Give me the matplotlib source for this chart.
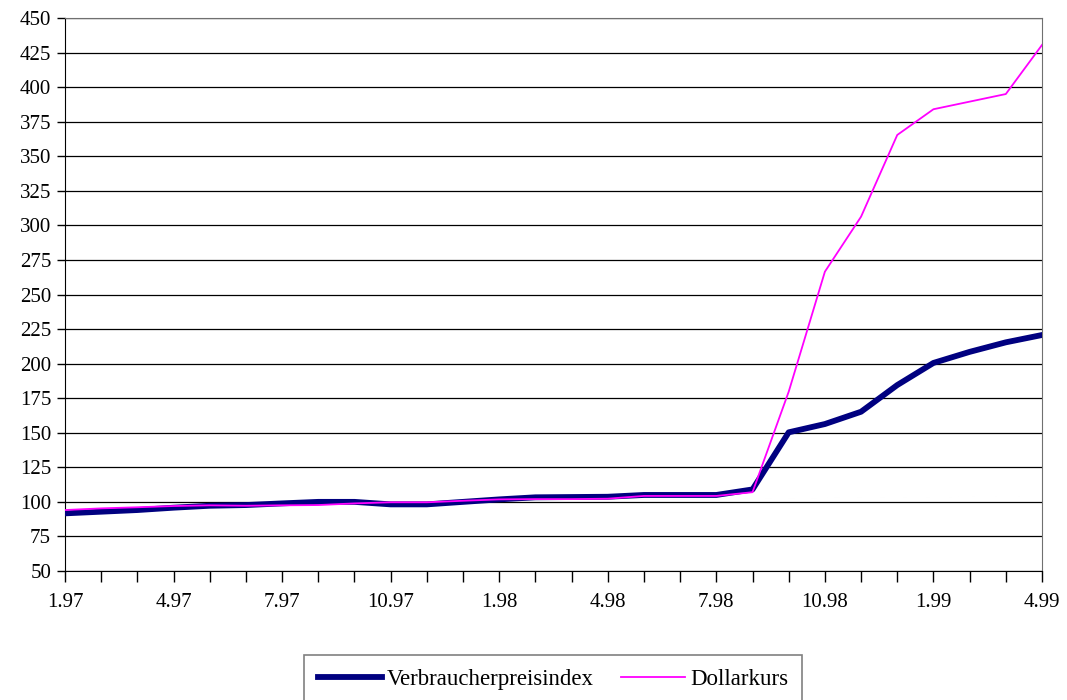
import numpy as np
import matplotlib
matplotlib.use('Agg')
import matplotlib.pyplot as plt

plt.rcParams['font.family'] = ['Liberation Serif', 'DejaVu Serif']

# monthly values, 1.97 .. 4.99
months = ['1.97', '2.97', '3.97', '4.97', '5.97', '6.97', '7.97', '8.97', '9.97', '10.97',
          '11.97', '12.97', '1.98', '2.98', '3.98', '4.98', '5.98', '6.98', '7.98', '8.98',
          '9.98', '10.98', '11.98', '12.98', '1.99', '2.99', '3.99', '4.99']
vpi = [91.7, 92.9, 94.1, 95.8, 97.2, 97.7, 98.9, 100.0, 100.0, 98.2,
       98.2, 100.0, 101.8, 103.3, 103.5, 103.7, 105.0, 105.0, 105.0, 109.0,
       150.3, 156.3, 165.2, 184.5, 200.5, 208.5, 215.4, 220.7]
dollar = [94.1, 95.3, 96.1, 97.0, 97.5, 97.2, 97.5, 97.7, 98.9, 99.7,
          99.7, 100.8, 101.8, 102.0, 102.0, 102.3, 104.3, 104.3, 104.3, 107.0,
          179.7, 266.5, 306.3, 365.4, 384.0, 389.5, 395.0, 430.5]
label_every = 3

x = np.arange(len(months))

fig = plt.figure(figsize=(10.67, 7.0), dpi=100)
ax = fig.add_axes([65/1067, 1-571/700, (1042-65)/1067, (571-18)/700])

ax.plot(x, vpi, color='#000080', lw=4.2, solid_joinstyle='round', label='Verbraucherpreisindex', zorder=3)
ax.plot(x, dollar, color='#FF00FF', lw=1.3, label='Dollarkurs', zorder=4)

ax.set_xlim(0, len(months)-1)
ax.set_ylim(50, 450)
ax.set_yticks(np.arange(50, 451, 25))
ax.set_xticks(x)
ax.set_xticklabels([m if i % label_every == 0 else '' for i, m in enumerate(months)])
ax.tick_params(axis='x', length=8, width=1, direction='out', pad=8, labelsize=15, color='black')
ax.tick_params(axis='y', length=6, width=1, direction='out', pad=4, labelsize=15, color='black')
ax.yaxis.grid(True, color='black', lw=0.9)
ax.set_axisbelow(True)

for s in ['left', 'bottom']:
    ax.spines[s].set_color('black')
for s in ['top', 'right']:
    ax.spines[s].set_color('#707070')

# legend box runs off the bottom edge like the original
leg = fig.legend(loc='upper center', bbox_to_anchor=(553/1067, 1-655/700), ncol=2,
                 frameon=True, fancybox=False, fontsize=16.5, handlelength=2.8,
                 handletextpad=0.2, columnspacing=1.2, borderpad=0.6, borderaxespad=0)
leg.get_frame().set_edgecolor('#606060')
leg.get_frame().set_linewidth(1.2)

fig.savefig('out.png', dpi=100)
